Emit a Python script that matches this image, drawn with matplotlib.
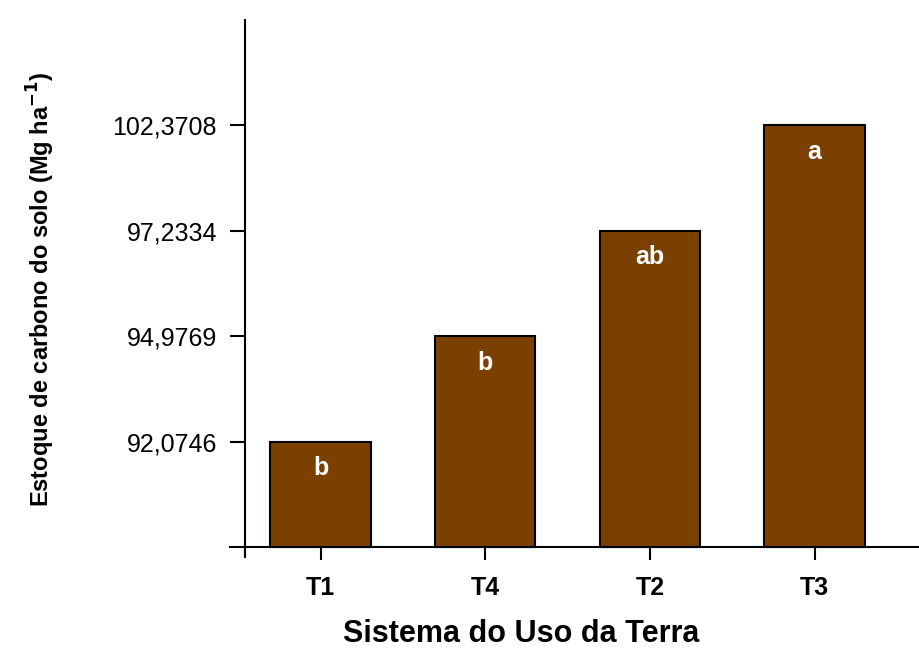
import matplotlib
matplotlib.use("Agg")
import matplotlib.pyplot as plt

plt.rcParams['font.family'] = ['Liberation Sans', 'DejaVu Sans']

categories = ["T1", "T4", "T2", "T3"]
carbon_stock = [92.0746, 94.9769, 97.2334, 102.3708]
letters = ["b", "b", "ab", "a"]

# y axis is ordinal in the original: one equal step per reported value
tick_values = sorted(carbon_stock)
tick_pos = [i + 1 for i in range(len(tick_values))]
bar_pos = [tick_values.index(v) + 1 for v in carbon_stock]
x = list(range(len(categories)))

fig = plt.figure(figsize=(9.2, 6.57), dpi=100)
ax = fig.add_axes([0.25, 0.1515, 0.75, 0.818])

ax.bar(x, bar_pos, width=0.61, color="#7B3F00", edgecolor="black", linewidth=1.5, zorder=2)
for xi, h, lab in zip(x, bar_pos, letters):
    ax.text(xi, h - 0.25, lab, color="white", fontsize=18, fontweight="bold",
            ha="center", va="center", zorder=3)

ax.set_xlim(-0.55, 3.64)
ax.set_ylim(-0.1, 5)
ax.spines['top'].set_visible(False)
ax.spines['right'].set_visible(False)
ax.spines['left'].set_position(('data', -0.46))
ax.spines['bottom'].set_position(('data', 0))
ax.spines['left'].set_linewidth(1.5)
ax.spines['bottom'].set_linewidth(1.5)

ax.set_xticks(x)
ax.set_xticklabels(categories, fontsize=18, fontweight="bold")
ax.set_yticks(tick_pos)
ax.set_yticklabels([f"{v:.4f}".replace(".", ",") for v in tick_values], fontsize=18)
ax.tick_params(axis='x', direction='out', length=9, width=1.5, pad=12)
ax.tick_params(axis='y', direction='out', length=11, width=1.5, pad=9)

fig.text(0.567, 0.035, "Sistema do Uso da Terra", fontsize=22, fontweight="bold",
         ha="center", va="center")
fig.text(0.045, 0.56, r"Estoque de carbono do solo (Mg ha$^{\mathbf{-1}}$)", fontsize=17,
         fontweight="bold", rotation=90, ha="center", va="center")

fig.savefig("out.png", dpi=100)
